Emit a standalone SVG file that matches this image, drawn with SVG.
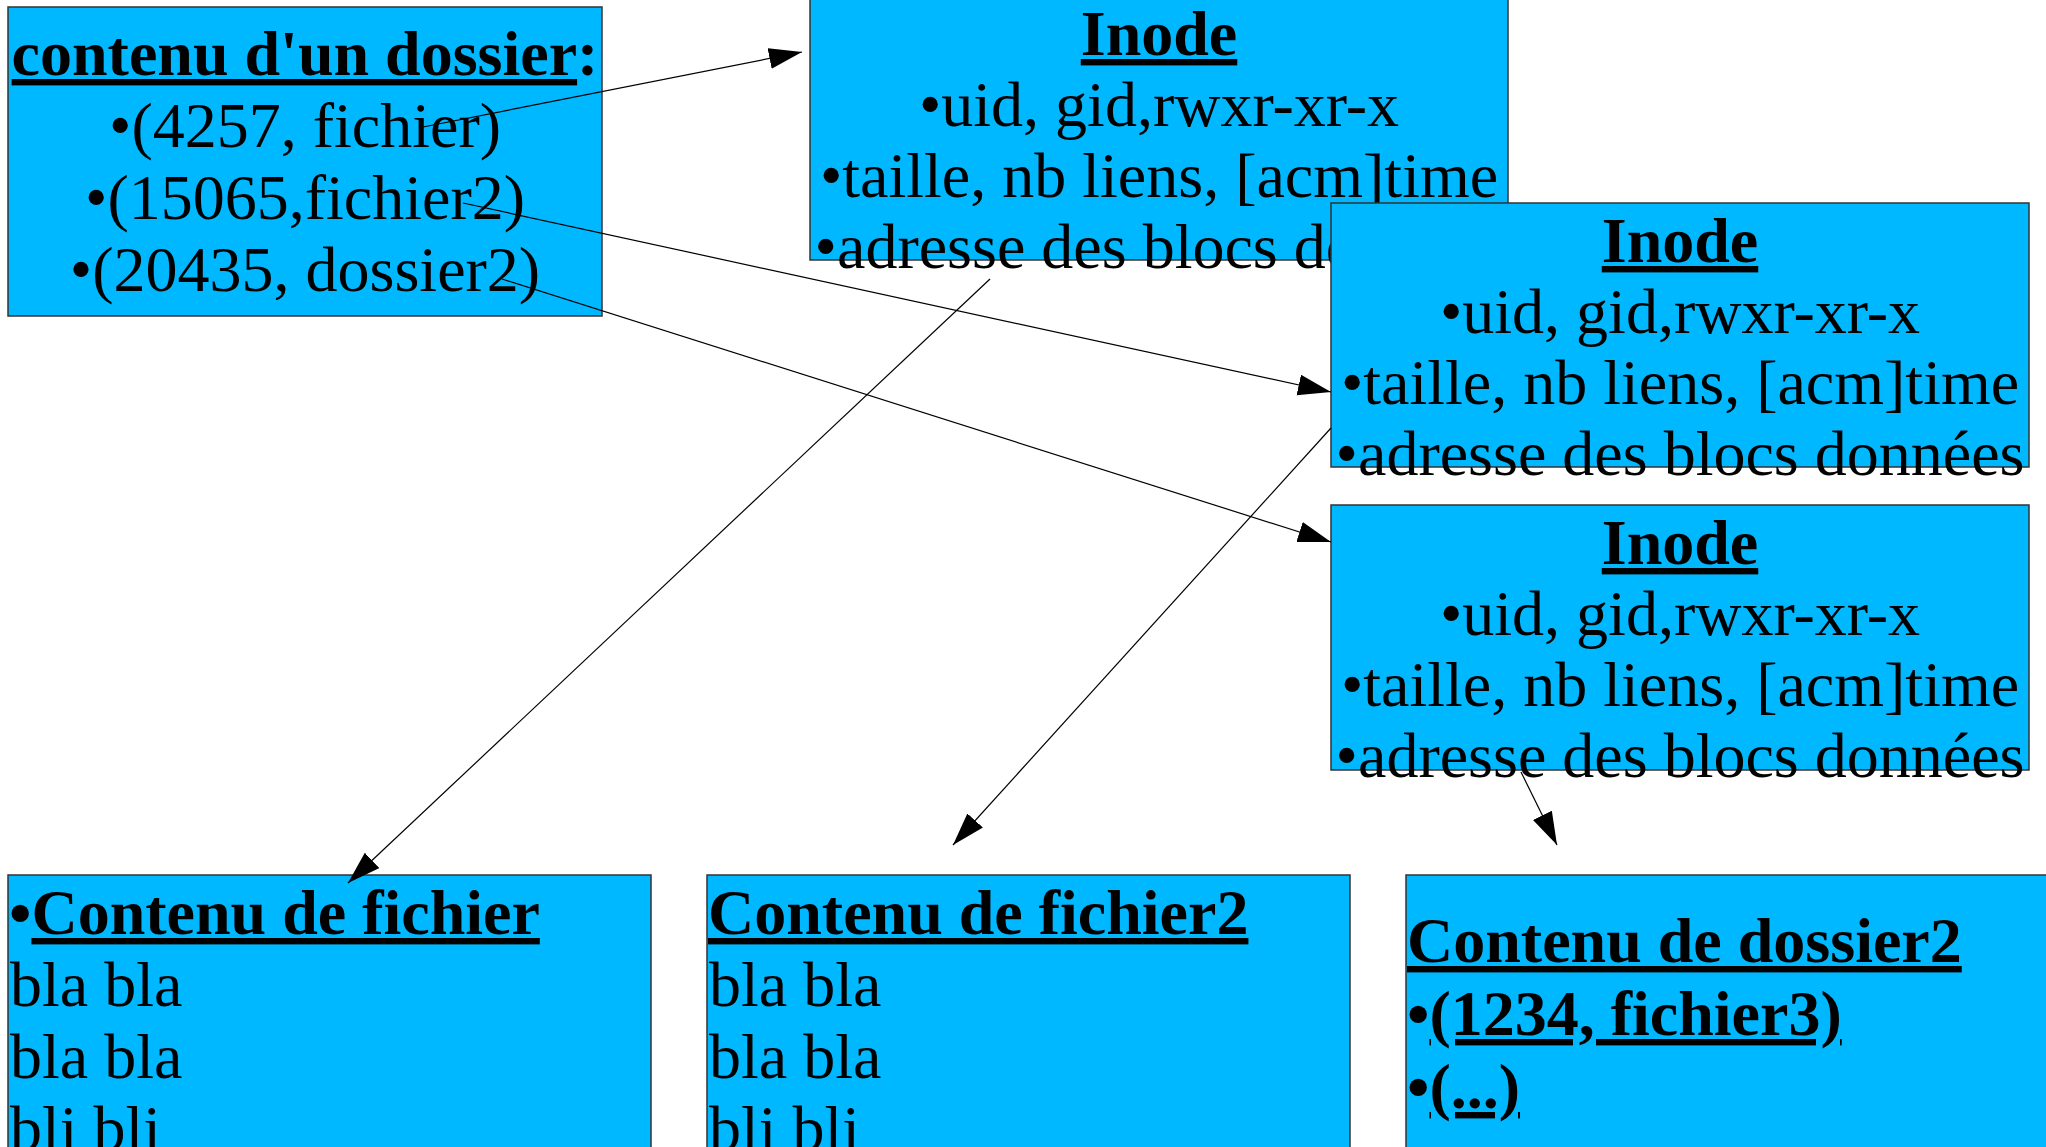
<svg xmlns="http://www.w3.org/2000/svg" width="2046" height="1147" viewBox="0 0 2046 1147">
  <defs>
    <style>
      .box { fill: #00b8ff; stroke: #333333; stroke-width: 1.5; }
      text { font-family: "Liberation Serif", "Times New Roman", serif; font-size: 64px; fill: #000000; }
      .c { text-anchor: middle; }
      .b { font-weight: bold; }
      .u { text-decoration: underline; }
      .link { stroke: #000000; stroke-width: 1.2; fill: none; marker-end: url(#arrow); }
    </style>
    <marker id="arrow" markerUnits="userSpaceOnUse" markerWidth="34" markerHeight="22" refX="33" refY="10.5" orient="auto">
      <path d="M0,0 L33,10.5 L0,21 Z" fill="#000000"/>
    </marker>
  </defs>
  <rect width="2046" height="1147" fill="#ffffff"/>

  <!-- directory listing -->
  <g id="dossier">
    <rect class="box" x="8" y="7" width="594" height="309"/>
    <text class="c" x="305" y="75"><tspan class="b u">contenu d'un dossier</tspan><tspan class="b">:</tspan></text>
    <text class="c" x="305" y="147">•(4257, fichier)</text>
    <text class="c" x="305" y="219">•(15065,fichier2)</text>
    <text class="c" x="305" y="291">•(20435, dossier2)</text>
  </g>

  <!-- inode of fichier -->
  <g id="inode1">
    <rect class="box" x="810" y="-4" width="698" height="264"/>
    <text class="c b u" x="1159" y="55">Inode</text>
    <text class="c" x="1159" y="126">•uid, gid,rwxr-xr-x</text>
    <text class="c" x="1159" y="197">•taille, nb liens, [acm]time</text>
    <text class="c" x="1159" y="268">•adresse des blocs données</text>
  </g>

  <!-- inode of fichier2 -->
  <g id="inode2">
    <rect class="box" x="1331" y="203" width="698" height="264"/>
    <text class="c b u" x="1680" y="262">Inode</text>
    <text class="c" x="1680" y="333">•uid, gid,rwxr-xr-x</text>
    <text class="c" x="1680" y="404">•taille, nb liens, [acm]time</text>
    <text class="c" x="1680" y="475">•adresse des blocs données</text>
  </g>

  <!-- inode of dossier2 -->
  <g id="inode3">
    <rect class="box" x="1331" y="505" width="698" height="265"/>
    <text class="c b u" x="1680" y="564">Inode</text>
    <text class="c" x="1680" y="635">•uid, gid,rwxr-xr-x</text>
    <text class="c" x="1680" y="706">•taille, nb liens, [acm]time</text>
    <text class="c" x="1680" y="777">•adresse des blocs données</text>
  </g>

  <!-- data blocks -->
  <g id="contenu-fichier">
    <rect class="box" x="8" y="875" width="643" height="300"/>
    <text x="9" y="934"><tspan class="b">•</tspan><tspan class="b u">Contenu de fichier</tspan></text>
    <text x="10" y="1006">bla bla</text>
    <text x="10" y="1078">bla bla</text>
    <text x="10" y="1150">bli bli</text>
  </g>

  <g id="contenu-fichier2">
    <rect class="box" x="707" y="875" width="643" height="300"/>
    <text class="b u" x="708" y="934">Contenu de fichier2</text>
    <text x="709" y="1006">bla bla</text>
    <text x="709" y="1078">bla bla</text>
    <text x="709" y="1150">bli bli</text>
  </g>

  <g id="contenu-dossier2">
    <rect class="box" x="1406" y="875" width="660" height="300"/>
    <text class="b u" x="1407" y="962">Contenu de dossier2</text>
    <text x="1407" y="1035"><tspan class="b">•</tspan><tspan class="b u">(1234, fichier3)</tspan></text>
    <text x="1407" y="1108"><tspan class="b">•</tspan><tspan class="b u">(...)</tspan></text>
  </g>

  <!-- links -->
  <g id="connectors">
    <line class="link" x1="423" y1="127" x2="802" y2="52"/>
    <line class="link" x1="463" y1="203" x2="1331" y2="392"/>
    <line class="link" x1="502" y1="279" x2="1331" y2="542"/>
    <line class="link" x1="990" y1="279" x2="348" y2="883"/>
    <line class="link" x1="1331" y1="428" x2="953" y2="845"/>
    <line class="link" x1="1521" y1="772" x2="1557" y2="845"/>
  </g>
</svg>
